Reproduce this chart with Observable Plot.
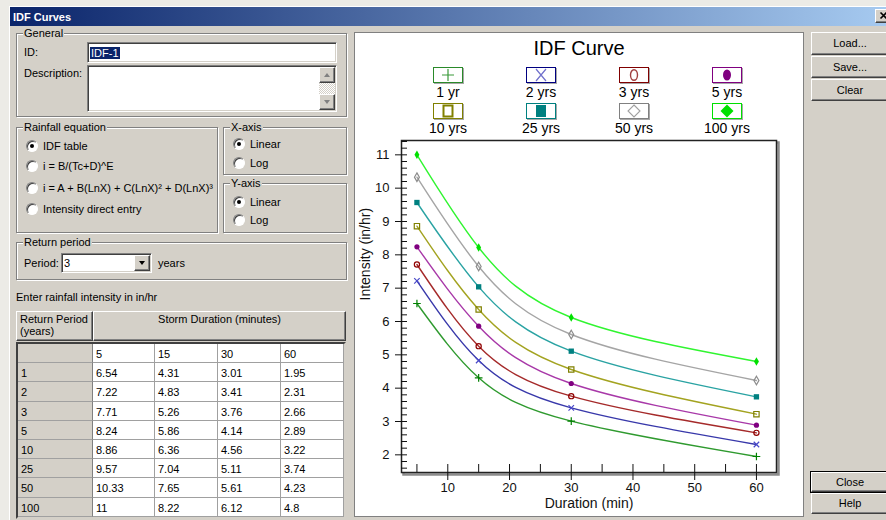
<!DOCTYPE html>
<html><head><meta charset="utf-8">
<script src="https://cdn.jsdelivr.net/npm/d3@7"></script>
<script src="https://cdn.jsdelivr.net/npm/@observablehq/plot@0.6"></script>
<style>
html,body{margin:0;padding:0;}
body{width:886px;height:520px;position:relative;overflow:hidden;background:#ecebe6;font-family:"Liberation Sans",Arial,sans-serif;font-size:11px;color:#000;}
.abs{position:absolute;box-sizing:border-box;}
.t{line-height:14px;white-space:nowrap;}
.grp{border:1px solid #808080;box-shadow:inset 1px 1px 0 #fff,1px 1px 0 #fff;}
.grp>.lbl{position:absolute;left:6px;top:-8px;background:#d4d0c8;padding:0 1px;line-height:14px;white-space:nowrap;}
.sunk{background:#fff;border:1px solid;border-color:#808080 #fff #fff #808080;box-shadow:inset 1px 1px 0 #404040,inset -1px -1px 0 #d4d0c8;}
.btn{background:#d4d0c8;border:1px solid;border-color:#fff #404040 #404040 #fff;box-shadow:inset -1px -1px 0 #808080;text-align:center;}
.radio{width:12px;height:12px;border-radius:50%;background:#fff;border:1px solid;border-color:#808080 #fff #fff #808080;box-shadow:inset 1px 1px 0 #404040;}
.radio.on::after{content:"";position:absolute;left:3px;top:3px;width:4px;height:4px;border-radius:50%;background:#000;}
.sel{background:#0a246a;color:#fff;padding:0 1px;}
.cell{border-right:1px solid #a0a0a0;border-bottom:1px solid #a0a0a0;padding-left:3px;white-space:nowrap;}
#panel{background:#fff;border:1px solid #808080;}
.leglab{font-size:14px;line-height:14px;text-align:center;width:80px;white-space:nowrap;}
</style>
</head><body>
<script>
const durations = [5, 15, 30, 60];
const periodLabels = ["1 yr", "2 yrs", "3 yrs", "5 yrs", "10 yrs", "25 yrs", "50 yrs", "100 yrs"];
const periodYears = [1, 2, 3, 5, 10, 25, 50, 100];
const i1yr = [6.54, 4.31, 3.01, 1.95];
const i2yr = [7.22, 4.83, 3.41, 2.31];
const i3yr = [7.71, 5.26, 3.76, 2.66];
const i5yr = [8.24, 5.86, 4.14, 2.89];
const i10yr = [8.86, 6.36, 4.56, 3.22];
const i25yr = [9.57, 7.04, 5.11, 3.74];
const i50yr = [10.33, 7.65, 5.61, 4.23];
const i100yr = [11, 8.22, 6.12, 4.8];
const intensities = [i1yr, i2yr, i3yr, i5yr, i10yr, i25yr, i50yr, i100yr];
const xTicks = [10, 20, 30, 40, 50, 60];
const xMinorTicks = [5, 10, 15, 20, 25, 30, 35, 40, 45, 50, 55, 60];
const yTicks = [2, 3, 4, 5, 6, 7, 8, 9, 10, 11];
const xDomain = [2.5, 63.25];
const yDomain = [1.47, 11.43];

// ---- styles ----
const lineColors = ["#2f9a2f", "#3838aa", "#a52a2a", "#a838a8", "#a3a320", "#2aa3a3", "#a5a5a5", "#30f530"];
const markColors = ["#008000", "#4848c8", "#900000", "#800080", "#808000", "#008080", "#8c8c8c", "#00e000"];
const boxColors = ["#2a8a2a", "#000080", "#800000", "#800080", "#808000", "#008080", "#808080", "#00e000"];
const markSymbols = ["plus", "times", "circle", "circle", "square", "square", "diamond", "diamond"];
const markFilled = [false, false, false, true, false, true, false, true];

// ---- UI helpers ----
const B = document.body;
function div(x, y, w, h, cls, style, html, parent) {
  const d = document.createElement("div");
  d.className = "abs " + (cls || "");
  d.style.left = x + "px"; d.style.top = y + "px";
  if (w != null) d.style.width = w + "px";
  if (h != null) d.style.height = h + "px";
  if (style) d.style.cssText += style;
  if (html != null) d.innerHTML = html;
  (parent || B).appendChild(d);
  return d;
}
function label(x, cy, text, style, parent) { return div(x, cy - 7, null, 14, "t", style, text, parent); }
function grp(x, y, w, h, text) { const g = div(x, y, w, h, "grp"); const l = document.createElement("div"); l.className = "lbl"; l.textContent = text; g.appendChild(l); return g; }
function radio(x, cy, on, text) { div(x, cy - 6, 12, 12, "radio" + (on ? " on" : "")); label(x + 17, cy, text); }
function tri(x, y, dir, color) {
  const s = dir === "up" ? `border-left:3.5px solid transparent;border-right:3.5px solid transparent;border-bottom:4px solid ${color};`
                         : `border-left:3.5px solid transparent;border-right:3.5px solid transparent;border-top:4px solid ${color};`;
  div(x, y, 0, 0, "", s);
}

// window frame
div(9, 6, 877, 514, "", "background:#d4d0c8;border-left:1px solid #fff;border-top:1px solid #fff;");
div(10, 7, 876, 19, "", "background:linear-gradient(to right,#0a246a,#a6caf0);");
label(13, 16.5, "IDF Curves", "color:#fff;font-weight:bold;");
const xb = div(875, 9, 16, 14, "btn");
xb.innerHTML = '<svg width="14" height="12" style="position:absolute;left:1px;top:0"><path d="M3.5,2.5L9.5,8.5M9.5,2.5L3.5,8.5" stroke="#000" stroke-width="1.6"/></svg>';

// General
grp(16, 33, 331, 84, "General");
label(24, 52, "ID:");
div(87, 42, 250, 21, "sunk");
label(90, 52.5, '<span class="sel">IDF-1</span>');
label(24, 73, "Description:");
div(87, 65, 250, 47, "sunk");
div(319, 67, 16, 43, "", "background:repeating-conic-gradient(#fff 0 25%,#d4d0c8 0 50%) 0 0/2px 2px;");
div(319, 67, 16, 16, "btn"); tri(323.5, 73, "up", "#808080");
div(319, 94, 16, 16, "btn"); tri(323.5, 100, "down", "#808080");

// Rainfall equation
grp(16, 127, 202, 106, "Rainfall equation");
radio(26, 146, true, "IDF table");
radio(26, 166, false, "i = B/(Tc+D)^E");
radio(26, 188, false, "i = A + B(LnX) + C(LnX)² + D(LnX)³");
radio(26, 209, false, "Intensity direct entry");

// axes groups
grp(223, 127, 124, 48, "X-axis");
radio(233, 144, true, "Linear");
radio(233, 163, false, "Log");
grp(223, 183, 124, 50, "Y-axis");
radio(233, 202, true, "Linear");
radio(233, 220, false, "Log");

// Return period
grp(16, 242, 331, 38, "Return period");
label(24, 263, "Period:");
div(61, 253, 91, 20, "sunk");
label(64, 263, "3");
div(134, 255, 16, 16, "btn"); tri(138.5, 261, "down", "#000");
label(158, 263, "years");

label(16, 297, "Enter rainfall intensity in in/hr");

// table header
div(16, 311, 77, 30, "btn", "text-align:left;");
label(20, 319, "Return Period"); label(20, 331, "(years)");
div(93, 311, 253, 30, "btn");
div(93, 312, 253, 14, "t", "text-align:center;", "Storm Duration (minutes)");

// grid built from the same data arrays
div(16, 342, 330, 177, "", "background:#fff;border:2px solid;border-color:#404040 #d4d0c8 #d4d0c8 #404040;box-shadow:inset 1px 1px 0 #808080;");
const colEdges = [18, 93, 155, 218, 281, 344];
const rowH = 19.2, row0 = 344;
const gridRows = [["", ...durations.map(String)], ...periodYears.map((p, i) => [String(p), ...intensities[i].map(String)])];
gridRows.forEach((r, ri) => {
  const top = Math.round(row0 + rowH * ri), bot = Math.round(row0 + rowH * (ri + 1));
  if (bot > 518) return;
  r.forEach((v, ci) => {
    const gray = ci === 0;
    div(colEdges[ci], top, colEdges[ci + 1] - colEdges[ci], bot - top, "cell",
      `background:${gray ? "#d4d0c8" : "#fff"};line-height:${bot - top + 1}px;${ci === 0 ? "border-right-color:#808080;" : ""}`, v);
  });
});

// right-side buttons
div(811, 32, 78, 23, "btn", "line-height:21px;", "Load...");
div(811, 56, 78, 22, "btn", "line-height:20px;", "Save...");
div(811, 79, 78, 22, "btn", "line-height:20px;", "Clear");
div(810, 471, 80, 22, "", "border:1px solid #000;");
div(811, 472, 78, 20, "btn", "line-height:18px;", "Close");
div(811, 493, 78, 21, "btn", "line-height:19px;", "Help");

// chart panel
const panel = div(354, 32, 450, 485, "", "", null);
panel.id = "panel";
const P = document.createElement("div");
P.className = "abs"; P.style.cssText = "left:0;top:0;width:448px;height:483px;";
panel.appendChild(P);
div(0, 2, 448, 26, "", "font-size:20px;line-height:26px;text-align:center;", "IDF Curve", P);

// legend (HTML, colours from style arrays)
const colCenters = [93, 186, 279, 372];
const symSvg = [
  c => `<path d="M8,7H20M14,1V13" stroke="${c}" stroke-width="1.2" fill="none"/>`,
  c => `<path d="M9,1L19,13M19,1L9,13" stroke="${c}" stroke-width="1.2" fill="none"/>`,
  c => `<ellipse cx="14" cy="7" rx="3.5" ry="5.3" stroke="${c}" stroke-width="1.4" fill="none"/>`,
  c => `<ellipse cx="14" cy="7" rx="4" ry="5.5" fill="${c}"/>`,
  c => `<rect x="9.5" y="1.5" width="9" height="11" stroke="${c}" stroke-width="2" fill="none"/>`,
  c => `<rect x="9" y="1" width="10" height="12" fill="${c}"/>`,
  c => `<path d="M14,1L20,7L14,13L8,7Z" stroke="${c}" stroke-width="1.1" fill="none"/>`,
  c => `<path d="M14,0.5L20.5,7L14,13.5L7.5,7Z" fill="${c}"/>`
];
const symColors = ["#3a9a3a", "#7070cc", "#a04040", "#800080", "#808000", "#008080", "#a0a0a0", "#00e000"];
periodLabels.forEach((p, i) => {
  const cx = colCenters[i % 4], row = Math.floor(i / 4);
  const top = row === 0 ? 34 : 70;
  const bx = div(cx - 15, top, 30, 16, "", `background:#fff;border:1px solid ${boxColors[i]};box-shadow:1px 1px 0 #a8a8a8;`, null, P);
  bx.innerHTML = `<svg width="28" height="14" style="position:absolute;left:0;top:0">${symSvg[i](symColors[i])}</svg>`;
  div(cx - 40, top + 18, 80, 14, "leglab", "", p, P);
});

// ---- the chart ----
const rows = periodLabels.flatMap((p, i) => durations.map((d, j) => ({period: p, duration: d, intensity: intensities[i][j]})));
const yMinorTicks = d3.ticks(yDomain[0], yDomain[1], 50);

const chart = Plot.plot({
  width: 448, height: 379,
  marginLeft: 46, marginRight: 27, marginTop: 4, marginBottom: 43,
  style: {fontFamily: "Liberation Sans, Arial, sans-serif", fontSize: "13px", background: "white", color: "#111", overflow: "visible"},
  x: {domain: xDomain, axis: null},
  y: {domain: yDomain, axis: null},
  color: {domain: periodLabels, range: lineColors},
  marks: [
    Plot.frame({stroke: "#8c8c8c", strokeWidth: 2.5, dx: 2, dy: 2}),
    Plot.frame({fill: "white", stroke: "none"}),
    Plot.line(rows, {x: "duration", y: "intensity", z: "period", stroke: "period", curve: "natural", strokeWidth: 1.4}),
    ...periodLabels.map((p, i) => Plot.dot(rows.filter(r => r.period === p), {
      x: "duration", y: "intensity", symbol: markSymbols[i],
      r: markSymbols[i] === "square" ? 3 : 2.6,
      stroke: markFilled[i] ? "none" : markColors[i],
      fill: markFilled[i] ? markColors[i] : "none",
      strokeWidth: 1.2
    })),
    Plot.frame({stroke: "#222", strokeWidth: 1.5}),
    Plot.axisX({ticks: xTicks, tickSize: 8, tickPadding: 2, label: null}),
    Plot.axisX({ticks: xMinorTicks, tickSize: -8, fill: "none", label: null}),
    Plot.axisY({ticks: yTicks, tickSize: 6, tickPadding: 6, label: null}),
    Plot.axisY({ticks: yMinorTicks, tickSize: -6, fill: "none", label: null}),
    Plot.text(["Duration (min)"], {frameAnchor: "bottom", dy: 35, fontSize: 14}),
    Plot.text(["Intensity (in/hr)"], {frameAnchor: "left", rotate: -90, dx: -36, dy: -6, fontSize: 14})
  ]
});
chart.style.position = "absolute";
chart.style.left = "0px";
chart.style.top = "103px";
P.appendChild(chart);
</script>
</body></html>
